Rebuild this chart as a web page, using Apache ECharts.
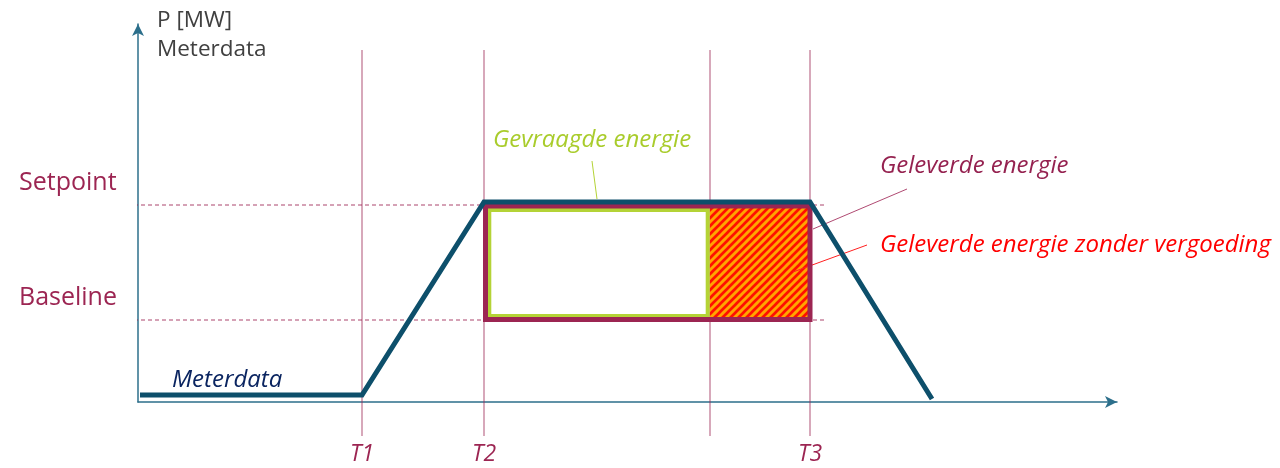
<!DOCTYPE html>
<html>
<head>
<meta charset="utf-8">
<script src="https://cdn.jsdelivr.net/npm/echarts@6/dist/echarts.min.js"></script>
<style>
  html, body { margin: 0; padding: 0; background: #fff; }
  #main { width: 1280px; height: 468px; }
</style>
</head>
<body>
<div id="main"></div>
<script>
// tijdstippen op de x-as (T1, T2, einde vergoeding, T3)
var timeMarks = [22.4, 34.6, 57.2, 67.2]
var timeLabels = ['T1', 'T2', '', 'T3']
// niveaus op de y-as
var levelValues = [19.7, 8.2]
var levelLabels = ['Setpoint', 'Baseline']
// meterdata
var meterX = [0.2, 22.4, 34.6, 67.2, 79.4]
var meterY = [0.7, 0.7, 20.0, 20.0, 0.3]
// vlakken [x1, y1, x2, y2]
var deliveredBox = [34.75, 19.6, 67.2, 8.25]
var requestedBox = [35.13, 19.2, 56.97, 8.6]
var unpaidBox = [57.17, 19.4, 67.0, 8.5]
// verwijslijnen
var leaderGreen = [[45.4, 24.1], [45.9, 20.3]]
var leaderCrimson = [[76.9, 21.3], [67.5, 17.3]]
var leaderRed = [[72.9, 15.7], [65.5, 13.0]]
// teksten
var noteTexts = ['P [MW]', 'Meterdata', 'Meterdata', 'Gevraagde energie', 'Geleverde energie', 'Geleverde energie zonder vergoeding']
var noteX = [1.9, 1.9, 3.4, 35.5, 74.2, 74.2]
var noteY = [38.1, 35.2, 2.2, 26.2, 23.6, 15.7]

var crimson = '#9c2552'
var teal = '#0d4f6b'
var green = '#b4d336'
var font = 'Open Sans'

// arcering: oranje met rode diagonale strepen
function makeHatch() {
  var s = 8
  var c = document.createElement('canvas')
  c.width = s
  c.height = s
  var g = c.getContext('2d')
  g.fillStyle = '#ffa500'
  g.fillRect(0, 0, s, s)
  g.strokeStyle = '#ff1000'
  g.lineWidth = 2.7
  g.beginPath()
  g.moveTo(-s, s); g.lineTo(s, -s)
  g.moveTo(0, s); g.lineTo(s, 0)
  g.moveTo(0, 2 * s); g.lineTo(2 * s, 0)
  g.stroke()
  return { image: c, repeat: 'repeat' }
}

function boxSeries(box, style, z) {
  return {
    type: 'custom',
    z: z,
    silent: true,
    clip: false,
    data: [box],
    renderItem: function (params, api) {
      var p1 = api.coord([api.value(0), api.value(1)])
      var p2 = api.coord([api.value(2), api.value(3)])
      return {
        type: 'rect',
        shape: { x: p1[0], y: p1[1], width: p2[0] - p1[0], height: p2[1] - p1[1] },
        style: style
      }
    }
  }
}

function lineSeries(data, color, width, type, z) {
  return {
    type: 'line',
    data: data,
    z: z,
    clip: false,
    silent: true,
    showSymbol: false,
    symbol: 'none',
    animation: false,
    lineStyle: { color: color, width: width, type: type || 'solid', join: 'miter' }
  }
}

function noteSeries(texts, xs, ys, style, z) {
  return {
    type: 'scatter',
    z: z,
    clip: false,
    silent: true,
    symbolSize: 0,
    itemStyle: { opacity: 1 },
    data: texts.map(function (txt, i) {
      return {
        value: [xs[i], ys[i]],
        label: Object.assign({
          show: true,
          formatter: txt,
          position: 'inside',
          align: 'left',
          verticalAlign: 'middle',
          opacity: 1,
          fontFamily: font
        }, style[i])
      }
    })
  }
}

var series = []

timeMarks.forEach(function (t) {
  series.push(lineSeries([[t, -3.4], [t, 35.2]], 'rgba(156,37,82,0.8)', 1, 'solid', 1))
})
levelValues.forEach(function (v) {
  series.push(lineSeries([[-13, v], [68.7, v]], 'rgba(156,37,82,0.85)', 1, [4, 3], 1))
})

series.push(lineSeries(leaderRed, '#ff2020', 1, 'solid', 2))
series.push(boxSeries(unpaidBox, { fill: makeHatch(), stroke: null }, 2))
series.push(boxSeries(requestedBox, { fill: null, stroke: green, lineWidth: 4 }, 3))
series.push(boxSeries(deliveredBox, { fill: null, stroke: crimson, lineWidth: 5 }, 3))
series.push(lineSeries(leaderGreen, green, 1, 'solid', 3))
series.push(lineSeries(leaderCrimson, '#b04a72', 1, 'solid', 3))
series.push(lineSeries(meterX.map(function (x, i) { return [x, meterY[i]] }), teal, 5, 'solid', 5))

var noteStyles = [
  { color: '#404040', fontSize: 22.5 },
  { color: '#404040', fontSize: 22.5 },
  { color: '#0a2460', fontSize: 24, fontStyle: 'italic' },
  { color: '#a9cc2c', fontSize: 24, fontStyle: 'italic' },
  { color: '#952250', fontSize: 24, fontStyle: 'italic' },
  { color: '#ff0000', fontSize: 24, fontStyle: 'italic' }
]
series.push(noteSeries(noteTexts, noteX, noteY, noteStyles, 6))

// Setpoint / Baseline net boven hun stippellijn, links van de y-as
series.push(noteSeries(
  levelLabels,
  levelValues.map(function () { return -11.9 }),
  levelValues.map(function (v) { return v + 2.2 }),
  levelValues.map(function () { return { color: crimson, fontSize: 25 } }),
  6
))

var myChart = echarts.init(document.getElementById('main'))
myChart.setOption({
  animation: false,
  backgroundColor: '#fff',
  grid: { left: 138, right: 163, top: 24, bottom: 66 },
  xAxis: {
    type: 'value',
    min: 0,
    max: 97.9,
    splitLine: { show: false },
    axisTick: { show: false },
    axisLine: {
      show: true,
      onZero: false,
      symbol: ['none', 'arrow'],
      symbolSize: [9, 12],
      lineStyle: { color: '#2c6f8b', width: 1.5 }
    },
    axisLabel: {
      customValues: timeMarks,
      formatter: function (v) {
        var i = timeMarks.indexOf(v)
        return i >= 0 ? timeLabels[i] : ''
      },
      margin: 41,
      fontFamily: font,
      fontStyle: 'italic',
      fontSize: 23,
      lineHeight: 23,
      color: crimson
    }
  },
  yAxis: {
    type: 'value',
    min: 0,
    max: 37.8,
    splitLine: { show: false },
    axisTick: { show: false },
    axisLine: {
      show: true,
      onZero: false,
      symbol: ['none', 'arrow'],
      symbolSize: [9, 12],
      lineStyle: { color: '#2c6f8b', width: 1.5 }
    },
    axisLabel: { show: false }
  },
  series: series
})
</script>
</body>
</html>
